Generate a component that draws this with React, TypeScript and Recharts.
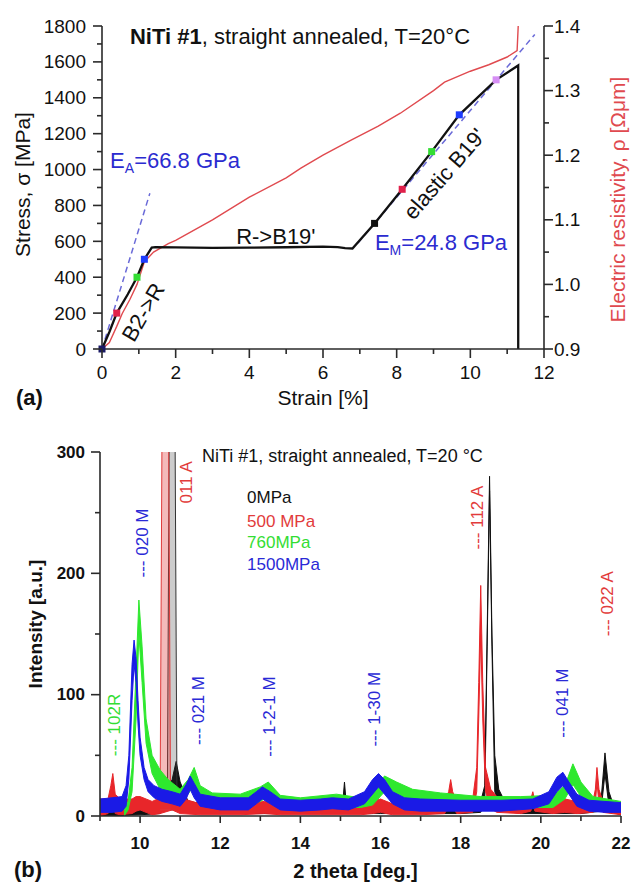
import React from 'react';
import { ComposedChart, Line, Area, XAxis, YAxis, ReferenceDot } from 'recharts';

const FONT = '"Liberation Sans", Arial, Helvetica, sans-serif';

// ---------- (a) stress-strain & resistivity ----------
const strainTicks = [0, 1, 2, 3, 4, 5, 6, 7, 8, 9, 10, 11, 12];
const strainMajor = [0, 2, 4, 6, 8, 10, 12];
const stressTicks = [0, 100, 200, 300, 400, 500, 600, 700, 800, 900, 1000, 1100, 1200, 1300, 1400, 1500, 1600, 1700, 1800];
const stressMajor = [0, 200, 400, 600, 800, 1000, 1200, 1400, 1600, 1800];
const rhoTicks = [0.9, 0.95, 1.0, 1.05, 1.1, 1.15, 1.2, 1.25, 1.3, 1.35, 1.4];
const rhoMajor = [0.9, 1.0, 1.1, 1.2, 1.3, 1.4];

const stressStrain = [0, 0.2, 0.4, 0.7, 0.95, 1.15, 1.35, 1.45, 2, 3, 4, 5, 6, 6.4, 6.6, 6.8, 7.4, 8.15, 8.95, 9.7, 10.7, 11.3, 11.3];
const stressValue = [0, 95, 200, 305, 400, 500, 565, 568, 566, 564, 565, 567, 570, 568, 562, 560, 700, 890, 1100, 1305, 1500, 1580, 0];

const rhoStrain = [0, 0.2, 0.4, 0.55, 0.76, 0.95, 1.15, 1.4, 1.8, 2.0, 3.0, 4.0, 5.0, 5.4, 6.0, 6.75, 7.5, 8.1, 9.0, 9.3, 10.0, 10.5, 11.0, 11.27, 11.3];
const rhoValue = [0.9, 0.91, 0.935, 0.955, 0.977, 1.0, 1.035, 1.05, 1.063, 1.068, 1.1, 1.135, 1.165, 1.18, 1.2, 1.223, 1.245, 1.265, 1.3, 1.313, 1.33, 1.34, 1.352, 1.362, 1.4];

const eaStrain = [0, 1.3];
const eaStress = [0, 868];
const emStrain = [6.95, 11.75];
const emStress = [591, 1753];

const markStrain = [0, 0.4, 0.95, 1.15, 7.4, 8.15, 8.95, 9.7, 10.7];
const markStress = [0, 200, 400, 500, 700, 890, 1100, 1305, 1500];
const MARK_COLORS = ['#1a1a66', '#e0204a', '#33dd33', '#1e3cff', '#111111', '#e0204a', '#33dd33', '#1e3cff', '#d68ef5'];

// ---------- (b) XRD ----------
const thetaTicks = [9, 10, 11, 12, 13, 14, 15, 16, 17, 18, 19, 20, 21, 22];
const thetaMajor = [10, 12, 14, 16, 18, 20, 22];
const intTicks = [0, 50, 100, 150, 200, 250, 300];
const intMajor = [0, 100, 200, 300];

// 0 MPa
const blackX = [9.0, 10.0, 10.5, 10.8, 10.9, 11.0, 11.2, 12.0, 14.0, 15.05, 15.1, 15.15, 16.0, 18.0, 18.5, 18.6, 18.66, 18.72, 18.78, 18.85, 18.95, 19.1, 19.5, 21.0, 21.5, 21.6, 21.7, 21.8, 22.0];
const blackLo = [0, 1, 2, 10, 20, 10, 4, 2, 2, 2, 12, 2, 2, 2, 3, 10, 140, 268, 140, 20, 10, 4, 2, 2, 4, 35, 8, 3, 1];
const blackHi = [6, 8, 12, 30, 45, 28, 12, 8, 8, 8, 28, 8, 8, 8, 12, 25, 150, 280, 150, 50, 22, 12, 8, 8, 12, 52, 20, 10, 6];
const black011X = [10.68, 10.74, 10.86, 10.92];
const black011Lo = [5, 5, 5, 5];
const black011Hi = [12, 400, 400, 20];

// 500 MPa
const redX = [9.0, 9.2, 9.27, 9.32, 9.38, 9.5, 9.8, 9.9, 10.0, 10.15, 10.3, 10.5, 10.8, 11.0, 11.5, 12.5, 13.1, 13.5, 14.5, 15.5, 15.8, 16.0, 16.3, 17.0, 17.6, 17.7, 17.75, 17.8, 17.9, 18.3, 18.4, 18.45, 18.5, 18.55, 18.62, 18.75, 18.9, 19.5, 19.75, 19.8, 19.85, 20.3, 20.6, 20.9, 21.3, 21.36, 21.4, 21.45, 21.55, 22.0];
const redLo = [0, 2, 5, 10, 2, 1, 2, 4, 5, 3, 1, 2, 5, 2, 1, 1, 2, 1, 1, 1, 2, 3, 1, 1, 2, 8, 18, 8, 2, 3, 20, 80, 150, 80, 20, 6, 3, 2, 4, 10, 4, 2, 3, 2, 3, 10, 28, 10, 3, 1];
const redHi = [14, 14, 25, 35, 18, 14, 14, 16, 16, 14, 12, 15, 22, 15, 10, 10, 12, 10, 10, 10, 12, 14, 10, 10, 12, 20, 30, 20, 12, 14, 40, 110, 190, 110, 40, 22, 16, 12, 14, 20, 12, 12, 14, 12, 12, 22, 40, 22, 12, 10];
const red011X = [10.5, 10.56, 10.7, 10.76];
const red011Lo = [5, 5, 5, 5];
const red011Hi = [14, 400, 400, 14];

// 760 MPa
const greenX = [9.6, 9.7, 9.8, 9.9, 9.97, 10.05, 10.15, 10.3, 10.5, 10.7, 11.0, 11.2, 11.35, 11.5, 11.8, 12.5, 13.0, 13.2, 13.5, 14.0, 14.9, 15.5, 15.8, 16.1, 16.4, 16.8, 17.5, 18.5, 19.5, 20.3, 20.6, 20.8, 21.0, 21.3, 22.0];
const greenLo = [0, 5, 20, 80, 150, 110, 60, 35, 22, 18, 12, 18, 26, 14, 8, 8, 12, 16, 9, 6, 8, 7, 9, 20, 14, 11, 8, 7, 7, 7, 14, 26, 16, 7, 4];
const greenHi = [5, 12, 40, 120, 178, 140, 80, 50, 38, 30, 22, 30, 40, 25, 19, 18, 24, 28, 17, 15, 18, 15, 20, 33, 28, 22, 19, 16, 16, 17, 25, 43, 28, 16, 12];

// 1500 MPa
const blueX = [9.0, 9.3, 9.55, 9.65, 9.72, 9.8, 9.85, 9.9, 9.95, 10.0, 10.1, 10.2, 10.35, 10.55, 10.8, 11.0, 11.15, 11.25, 11.35, 11.5, 12.0, 12.7, 12.9, 13.05, 13.25, 13.5, 14.0, 14.5, 14.8, 15.2, 15.6, 15.8, 15.95, 16.1, 16.3, 16.6, 17.0, 18.0, 19.0, 19.8, 20.2, 20.4, 20.55, 20.7, 20.9, 21.2, 21.6, 22.0];
const blueLo = [3, 3, 4, 8, 30, 95, 125, 110, 75, 50, 30, 20, 15, 12, 10, 8, 14, 22, 15, 8, 5, 5, 10, 14, 10, 5, 4, 5, 6, 5, 10, 18, 24, 18, 10, 5, 4, 4, 4, 6, 10, 20, 25, 18, 8, 4, 3, 3];
const blueHi = [14, 15, 16, 25, 50, 125, 145, 130, 95, 65, 40, 30, 25, 22, 20, 18, 26, 33, 27, 18, 15, 15, 20, 24, 20, 14, 13, 14, 15, 14, 20, 30, 35, 30, 20, 15, 14, 13, 13, 14, 20, 32, 36, 28, 18, 13, 12, 11];

const legendNames = ['0MPa', '500 MPa', '760MPa', '1500MPa'];
const legendY = [258, 238, 221, 203];

type PeakNote = { x: number; y: number; text: string; c: string };
const peakNotes: PeakNote[] = [
  { x: 11.17, y: 275, text: '011 A', c: 'red' },
  { x: 10.05, y: 225, text: '--- 020 M', c: 'blue' },
  { x: 9.37, y: 75, text: '--- 102R', c: 'green' },
  { x: 11.45, y: 87, text: '--- 021 M', c: 'blue' },
  { x: 13.24, y: 82, text: '--- 1-2-1 M', c: 'blue' },
  { x: 15.86, y: 88, text: '--- 1-30 M', c: 'blue' },
  { x: 18.41, y: 246, text: '--- 112 A', c: 'red' },
  { x: 21.67, y: 175, text: '--- 022 A', c: 'red' },
  { x: 20.55, y: 93, text: '--- 041 M', c: 'blue' },
];

// ---------- styles ----------
const AX = '#2a2a2a';
const C = {
  black: '#111111',
  red: '#e8262a',
  green: '#2ee82e',
  blue: '#1a1ae6',
  rho: '#e04a4f',
  dash: '#6a6ad8',
  annBlue: '#2b2bd0',
  labRed: '#e23b3b',
  labGreen: '#33dd33',
  labBlue: '#2a2ad6',
};
const labelColor: Record<string, string> = { red: C.labRed, green: C.labGreen, blue: C.labBlue, black: C.black };

const zip2 = (xs: number[], ys: number[]) => xs.map((x, i) => ({ x, y: ys[i] }));
const zipR = (xs: number[], lo: number[], hi: number[]) => xs.map((x, i) => ({ x, r: [lo[i], hi[i]] }));

const makeTick = (
  side: 'left' | 'right' | 'bottom',
  majors: number[],
  fmt: (v: number) => string,
  fs: number,
  bold: boolean,
  majorLen: number,
  minorLen: number,
  gap: number
) => (p: any) => {
  const { x, y, payload } = p;
  const v = payload.value;
  const major = majors.includes(v);
  const len = major ? majorLen : minorLen;
  const common = { fontFamily: FONT, fontSize: fs, fontWeight: bold ? 700 : 400, fill: '#111' };
  if (side === 'left') {
    return (
      <g>
        <line x1={x} y1={y} x2={x - len} y2={y} stroke={AX} strokeWidth={1.6} />
        {major && (
          <text x={x - gap} y={y} textAnchor="end" dominantBaseline="central" {...common}>
            {fmt(v)}
          </text>
        )}
      </g>
    );
  }
  if (side === 'right') {
    return (
      <g>
        <line x1={x} y1={y} x2={x + len} y2={y} stroke={AX} strokeWidth={1.6} />
        {major && (
          <text x={x + gap} y={y} textAnchor="start" dominantBaseline="central" {...common}>
            {fmt(v)}
          </text>
        )}
      </g>
    );
  }
  return (
    <g>
      <line x1={x} y1={y} x2={x} y2={y + len} stroke={AX} strokeWidth={1.6} />
      {major && (
        <text x={x} y={y + gap} textAnchor="middle" dominantBaseline="central" {...common}>
          {fmt(v)}
        </text>
      )}
    </g>
  );
};

const at = (render: (x: number, y: number) => React.ReactElement) => (props: any) => {
  const vb = props.viewBox || {};
  const x = (vb.x ?? 0) + (vb.width ?? 0) / 2;
  const y = (vb.y ?? 0) + (vb.height ?? 0) / 2;
  return render(x, y);
};

const ChartA = () => {
  const stressData = zip2(stressStrain, stressValue);
  const rhoData = zip2(rhoStrain, rhoValue);
  const eaData = zip2(eaStrain, eaStress);
  const emData = zip2(emStrain, emStress);
  const markData = zip2(markStrain, markStress);
  const tf = { fontFamily: FONT, fill: '#111' };
  return (
    <ComposedChart width={634} height={420} margin={{ top: 26, right: 0, bottom: 0, left: 0 }}>
      <XAxis
        type="number"
        dataKey="x"
        domain={[0, 12]}
        ticks={strainTicks}
        interval={0}
        tickSize={0}
        tickMargin={0}
        tickLine={false}
        height={71}
        axisLine={{ stroke: AX, strokeWidth: 1.6 }}
        tick={makeTick('bottom', strainMajor, (v) => String(v), 19, false, 9, 5, 23)}
        label={at((x, y) => (
          <g>
            <text x={x} y={y + 13} textAnchor="middle" dominantBaseline="central" fontSize={21} {...tf}>
              Strain [%]
            </text>
            <text x={16} y={y + 13} textAnchor="start" dominantBaseline="central" fontSize={22} fontWeight={700} {...tf}>
              (a)
            </text>
          </g>
        ))}
      />
      <YAxis
        yAxisId="left"
        type="number"
        domain={[0, 1800]}
        ticks={stressTicks}
        interval={0}
        tickSize={0}
        tickMargin={0}
        tickLine={false}
        width={102}
        axisLine={{ stroke: AX, strokeWidth: 1.6 }}
        tick={makeTick('left', stressMajor, (v) => String(v), 19, false, 9, 5, 16)}
        label={at((x, y) => (
          <text
            x={22}
            y={y - 3}
            transform={`rotate(-90 22 ${y - 3})`}
            textAnchor="middle"
            dominantBaseline="central"
            fontSize={21}
            {...tf}
          >
            Stress, σ [MPa]
          </text>
        ))}
      />
      <YAxis
        yAxisId="right"
        orientation="right"
        type="number"
        domain={[0.9, 1.4]}
        ticks={rhoTicks}
        interval={0}
        tickSize={0}
        tickMargin={0}
        tickLine={false}
        width={90}
        axisLine={{ stroke: AX, strokeWidth: 1.6 }}
        tick={makeTick('right', rhoMajor, (v) => v.toFixed(1), 19, false, 9, 5, 10)}
        label={at((x, y) => (
          <text
            x={617}
            y={y + 12}
            transform={`rotate(-90 617 ${y + 12})`}
            textAnchor="middle"
            dominantBaseline="central"
            fontSize={21}
            fontFamily={FONT}
            fill={C.rho}
          >
            Electric resistivity, ρ [Ωμm]
          </text>
        ))}
      />
      <Line yAxisId="left" data={eaData} dataKey="y" stroke={C.dash} strokeWidth={1.5} strokeDasharray="6 4" dot={false} activeDot={false} isAnimationActive={false} />
      <Line yAxisId="left" data={emData} dataKey="y" stroke={C.dash} strokeWidth={1.5} strokeDasharray="6 4" dot={false} activeDot={false} isAnimationActive={false} />
      <Line yAxisId="right" data={rhoData} dataKey="y" stroke={C.rho} strokeWidth={1.4} dot={false} activeDot={false} isAnimationActive={false} />
      <Line yAxisId="left" data={stressData} dataKey="y" stroke={C.black} strokeWidth={2.3} dot={false} activeDot={false} isAnimationActive={false} />
      <Line
        yAxisId="left"
        data={markData}
        dataKey="y"
        stroke="none"
        activeDot={false}
        isAnimationActive={false}
        dot={(p: any) => (
          <rect key={`m${p.index}`} x={p.cx - 3.5} y={p.cy - 3.5} width={7} height={7} fill={MARK_COLORS[p.index]} />
        )}
      />
      <ReferenceDot yAxisId="left" x={0.76} y={1700} r={0} ifOverflow="visible" stroke="none" fill="none"
        label={at((x, y) => (
          <text x={x} y={y} fontSize={22} {...tf}>
            <tspan fontWeight={700}>NiTi #1</tspan>
            <tspan>, straight annealed, T=20°C</tspan>
          </text>
        ))}
      />
      <ReferenceDot yAxisId="left" x={0.22} y={1009} r={0} ifOverflow="visible" stroke="none" fill="none"
        label={at((x, y) => (
          <text x={x} y={y} fontSize={22} fontFamily={FONT} fill={C.annBlue}>
            <tspan>E</tspan>
            <tspan fontSize={14} dy={5}>A</tspan>
            <tspan dy={-5}>=66.8 GPa</tspan>
          </text>
        ))}
      />
      <ReferenceDot yAxisId="left" x={7.41} y={552} r={0} ifOverflow="visible" stroke="none" fill="none"
        label={at((x, y) => (
          <text x={x} y={y} fontSize={22} fontFamily={FONT} fill={C.annBlue}>
            <tspan>E</tspan>
            <tspan fontSize={14} dy={5}>M</tspan>
            <tspan dy={-5}>=24.8 GPa</tspan>
          </text>
        ))}
      />
      <ReferenceDot yAxisId="left" x={4.72} y={585} r={0} ifOverflow="visible" stroke="none" fill="none"
        label={at((x, y) => (
          <text x={x} y={y} textAnchor="middle" fontSize={22} {...tf}>
            R-&gt;B19'
          </text>
        ))}
      />
      <ReferenceDot yAxisId="left" x={9.3} y={976} r={0} ifOverflow="visible" stroke="none" fill="none"
        label={at((x, y) => (
          <text x={x} y={y} transform={`rotate(-49 ${x} ${y})`} textAnchor="middle" dominantBaseline="central" fontSize={22} {...tf}>
            elastic B19'
          </text>
        ))}
      />
      <ReferenceDot yAxisId="left" x={1.12} y={205} r={0} ifOverflow="visible" stroke="none" fill="none"
        label={at((x, y) => (
          <text x={x} y={y} transform={`rotate(-60 ${x} ${y})`} textAnchor="middle" dominantBaseline="central" fontSize={22} {...tf}>
            B2-&gt;R
          </text>
        ))}
      />
    </ComposedChart>
  );
};

const ChartB = () => {
  const series = [
    { key: 'k', data: zipR(blackX, blackLo, blackHi), color: C.black, op: 1 },
    { key: 'k011', data: zipR(black011X, black011Lo, black011Hi), color: '#333333', op: 0.25 },
    { key: 'r', data: zipR(redX, redLo, redHi), color: C.red, op: 1 },
    { key: 'r011', data: zipR(red011X, red011Lo, red011Hi), color: '#e03a3a', op: 0.35 },
    { key: 'g', data: zipR(greenX, greenLo, greenHi), color: C.green, op: 1 },
    { key: 'b', data: zipR(blueX, blueLo, blueHi), color: C.blue, op: 1 },
  ];
  const legendColors = [C.black, C.labRed, C.labGreen, C.labBlue];
  const tf = { fontFamily: FONT, fill: '#111' };
  return (
    <ComposedChart width={634} height={462} margin={{ top: 32, right: 13, bottom: 0, left: 0 }}>
      <XAxis
        type="number"
        dataKey="x"
        domain={[9, 22]}
        ticks={thetaTicks}
        interval={0}
        tickSize={0}
        tickMargin={0}
        tickLine={false}
        height={66}
        axisLine={{ stroke: AX, strokeWidth: 1.6 }}
        tick={makeTick('bottom', thetaMajor, (v) => String(v), 17, true, 7, 5, 27)}
        label={at((x, y) => (
          <g>
            <text x={x - 5} y={y + 22} textAnchor="middle" dominantBaseline="central" fontSize={20} fontWeight={700} {...tf}>
              2 theta [deg.]
            </text>
            <text x={14} y={y + 20} textAnchor="start" dominantBaseline="central" fontSize={22} fontWeight={700} {...tf}>
              (b)
            </text>
          </g>
        ))}
      />
      <YAxis
        type="number"
        domain={[0, 300]}
        allowDataOverflow
        ticks={intTicks}
        interval={0}
        tickSize={0}
        tickMargin={0}
        tickLine={false}
        width={100}
        axisLine={{ stroke: AX, strokeWidth: 1.6 }}
        tick={makeTick('left', intMajor, (v) => String(v), 17, true, 9, 5, 15)}
        label={at((x, y) => (
          <text
            x={35}
            y={y - 10}
            transform={`rotate(-90 35 ${y - 10})`}
            textAnchor="middle"
            dominantBaseline="central"
            fontSize={19}
            fontWeight={700}
            {...tf}
          >
            Intensity [a.u.]
          </text>
        ))}
      />
      {series.map((s) => (
        <Area
          key={s.key}
          data={s.data}
          dataKey="r"
          type="linear"
          stroke={s.color}
          strokeWidth={1}
          fill={s.color}
          fillOpacity={s.op}
          dot={false}
          activeDot={false}
          isAnimationActive={false}
        />
      ))}
      <ReferenceDot x={11.545} y={291.8} r={0} ifOverflow="visible" stroke="none" fill="none"
        label={at((x, y) => (
          <text x={x} y={y} fontSize={18} {...tf}>
            NiTi #1, straight annealed, T=20 °C
          </text>
        ))}
      />
      {legendNames.map((n, i) => (
        <ReferenceDot key={n} x={12.67} y={legendY[i]} r={0} ifOverflow="visible" stroke="none" fill="none"
          label={at((x, y) => (
            <text x={x} y={y} fontSize={17} fontFamily={FONT} fill={legendColors[i]}>
              {n}
            </text>
          ))}
        />
      ))}
      {peakNotes.map((n) => (
        <ReferenceDot key={n.text} x={n.x} y={n.y} r={0} ifOverflow="visible" stroke="none" fill="none"
          label={at((x, y) => (
            <text
              x={x}
              y={y}
              transform={`rotate(-90 ${x} ${y})`}
              textAnchor="middle"
              dominantBaseline="central"
              fontSize={17}
              fontFamily={FONT}
              fill={labelColor[n.c]}
            >
              {n.text}
            </text>
          ))}
        />
      ))}
    </ComposedChart>
  );
};

export default function App() {
  return (
    <div style={{ position: 'absolute', left: 0, top: 0, width: 634, height: 882, background: '#fff', fontFamily: FONT }}>
      <div style={{ position: 'absolute', left: 0, top: 0 }}>
        <ChartA />
      </div>
      <div style={{ position: 'absolute', left: 0, top: 420 }}>
        <ChartB />
      </div>
    </div>
  );
}
